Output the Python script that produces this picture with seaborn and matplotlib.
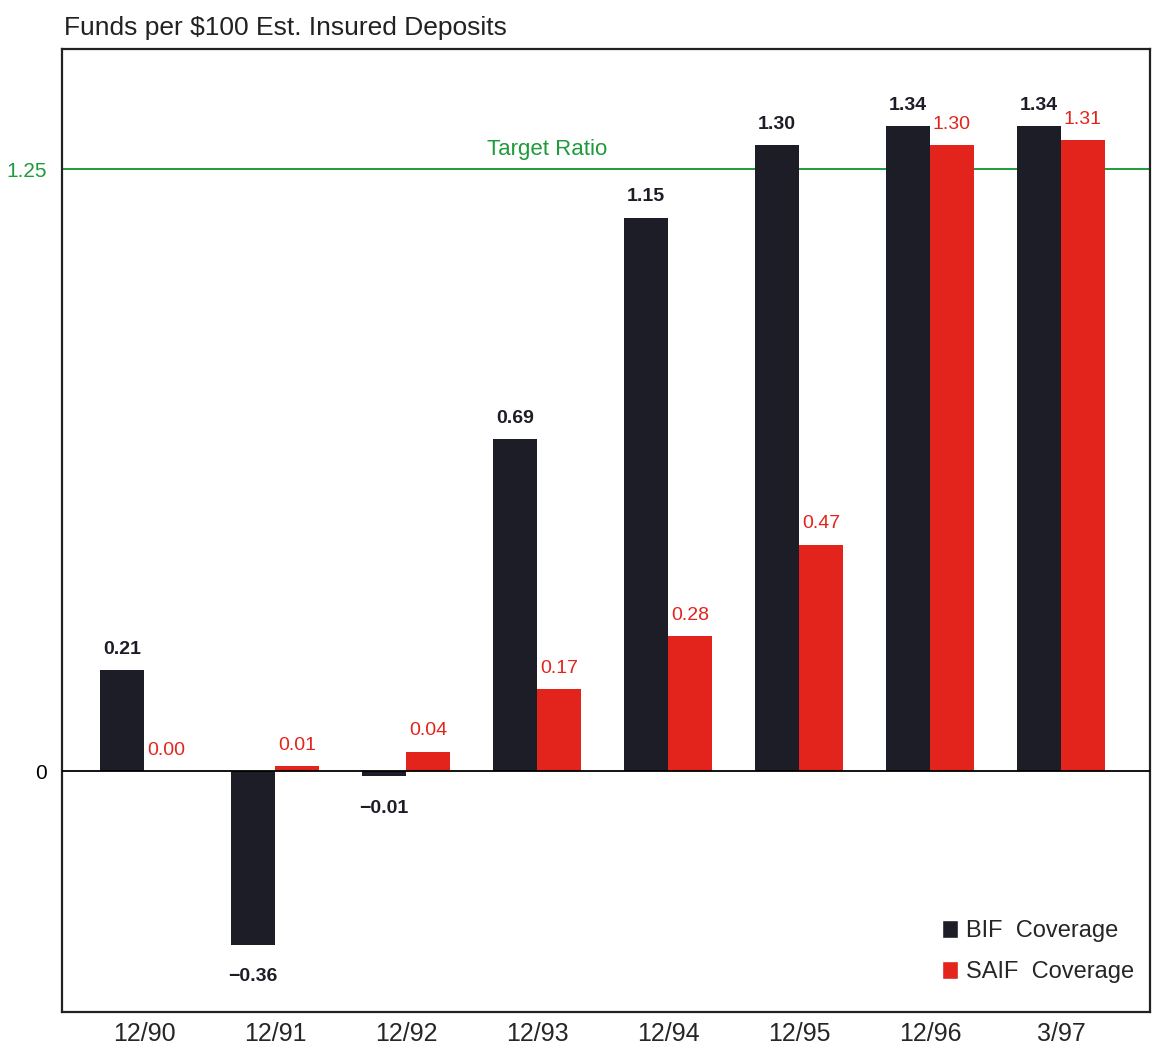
import matplotlib
matplotlib.use("Agg")
import matplotlib.pyplot as plt
import seaborn as sns
import pandas as pd
from matplotlib.patches import Patch

# ================= Data =================
PERIODS = ["12/90", "12/91", "12/92", "12/93", "12/94", "12/95", "12/96", "3/97"]
BIF = [0.21, -0.36, -0.01, 0.69, 1.15, 1.30, 1.34, 1.34]
SAIF = [0.00, 0.01, 0.04, 0.17, 0.28, 0.47, 1.30, 1.31]
SERIES = ["BIF  Coverage", "SAIF  Coverage"]
TARGET = 1.25

# ================= Style =================
sns.set_theme(style="white")
plt.rcParams['font.family'] = ['Liberation Sans', 'DejaVu Sans']

COLOR_BIF = "#1d1d27"
COLOR_SAIF = "#e3241c"
COLOR_TARGET = "#1f9a3c"

df = pd.DataFrame({
    "Period": PERIODS * 2,
    "Value": BIF + SAIF,
    "Fund": [SERIES[0]] * len(PERIODS) + [SERIES[1]] * len(PERIODS),
})

fig = plt.figure(figsize=(11.52, 10.55), dpi=100)
ax = fig.add_axes([62 / 1152, 1 - 1012 / 1055, (1150 - 62) / 1152, (1012 - 49) / 1055])

# reference lines sit under the bars
ax.axhline(TARGET, color=COLOR_TARGET, lw=1.4, zorder=0)
ax.axhline(0, color="black", lw=1.3, zorder=3)

sns.barplot(
    data=df, x="Period", y="Value", hue="Fund", order=PERIODS,
    palette={SERIES[0]: COLOR_BIF, SERIES[1]: COLOR_SAIF},
    width=0.672, saturation=1, ax=ax, errorbar=None, legend=False, zorder=2,
    linewidth=0,
)

def fmt(v):
    s = f"{abs(v):.2f}"
    return ("\u2212" + s) if v < 0 else s

# value labels
for cont, color, weight in zip(ax.containers, [COLOR_BIF, COLOR_SAIF], ["bold", "normal"]):
    for rect, v in zip(cont, cont.datavalues):
        x = rect.get_x() + rect.get_width() / 2
        if v < 0:
            ax.annotate(fmt(v), (x, v), xytext=(0, -17), textcoords="offset points",
                        ha="center", va="top", fontsize=14, color=color, fontweight=weight)
        else:
            ax.annotate(fmt(v), (x, v), xytext=(0, 9), textcoords="offset points",
                        ha="center", va="bottom", fontsize=14, color=color, fontweight=weight)

ax.text(3.08, TARGET + 0.02, "Target Ratio", color=COLOR_TARGET, fontsize=16,
        ha="center", va="bottom")

ax.set_xlim(-0.626, 7.68)
ax.set_ylim(-0.5, 1.5)
ax.set_yticks([0, TARGET])
ax.set_yticklabels(["0", "1.25"])
ax.tick_params(axis="y", length=0, pad=11, labelsize=15, colors="black")
ax.get_yticklabels()[1].set_color(COLOR_TARGET)
ax.tick_params(axis="x", length=0, pad=7, labelsize=18)
ax.set_xlabel("")
ax.set_ylabel("")

for sp in ax.spines.values():
    sp.set_visible(True)
    sp.set_color("#222222")
    sp.set_linewidth(1.6)

handles = [Patch(facecolor=COLOR_BIF), Patch(facecolor=COLOR_SAIF)]
ax.legend(handles, SERIES, loc="lower right", frameon=False, fontsize=17,
          handlelength=0.65, handleheight=0.8, handletextpad=0.35, labelspacing=0.8,
          bbox_to_anchor=(1.005, 0.008))

fig.text(64 / 1152, 1 - 35 / 1055, "Funds per $100 Est. Insured Deposits",
         fontsize=19, ha="left", va="baseline", color="#222222")

fig.savefig("out.png", dpi=100)
